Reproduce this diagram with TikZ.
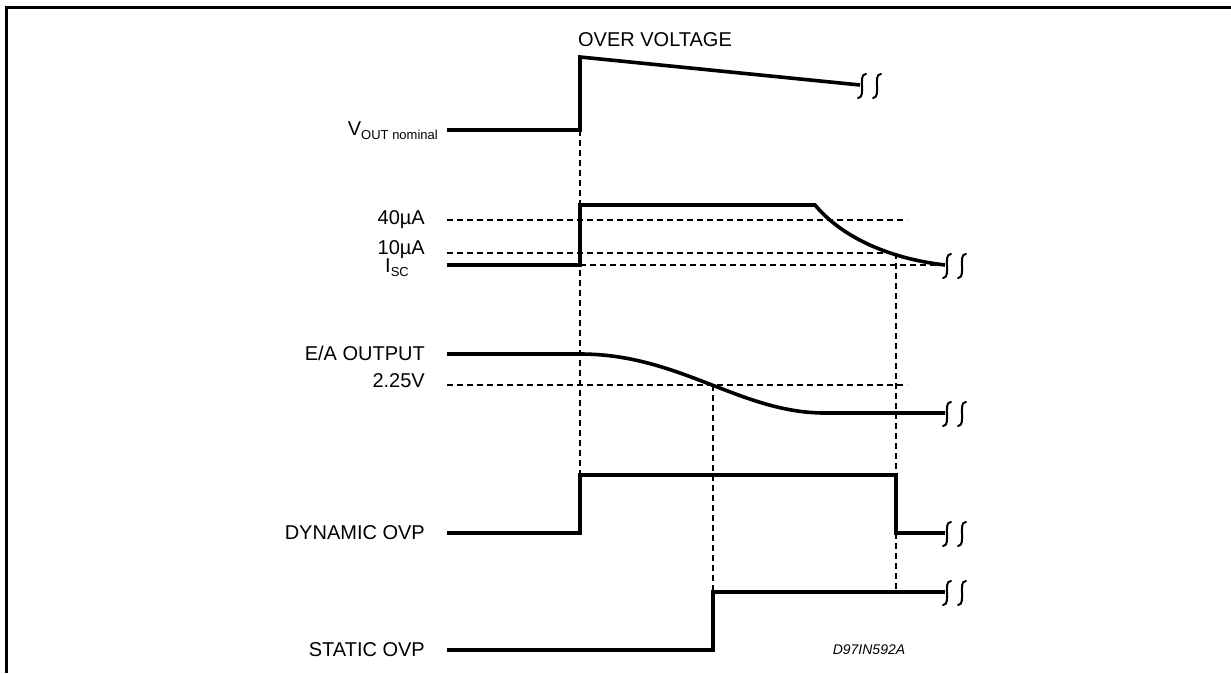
\documentclass[tikz,border=0pt]{standalone}
\usepackage{fontspec}
\setmainfont{Liberation Sans}
\begin{document}
\begin{tikzpicture}[x=1pt,y=-1pt,
  trace/.style={line width=3.6pt,line join=miter},
  guide/.style={line width=1.2pt,dash pattern=on 6pt off 4pt},
  frame/.style={line width=3pt},
  lbl/.style={font=\fontsize{20}{23}\selectfont,inner sep=0pt},
  brk/.style={line width=2pt,line cap=round}]
\useasboundingbox (0,0) rectangle (1231,673);
\tikzset{breakmark/.pic={
  \draw[brk] (-4,12) .. controls (1,12) and (0,4) .. (0,0) .. controls (0,-5) and (-1,-12) .. (4,-12);
  \draw[brk] (11,12) .. controls (16,12) and (15,4) .. (15,0) .. controls (15,-5) and (14,-12) .. (19,-12);
}}
% frame
\draw[frame] (6,673) -- (6,7) -- (1231,7);
% labels
\node[lbl] (ov) at (655,40) {OVER VOLTAGE};
\node[lbl,anchor=east] (vout) at (438,131) {V\raisebox{-0.4ex}{\fontsize{13}{15}\selectfont OUT nominal}};
\node[lbl,anchor=east] (l40) at (425,220) {40\textmu A};
\node[lbl,anchor=east] (l10) at (425,250) {10\textmu A};
\node[lbl,anchor=west] (isc) at (385,268) {I\raisebox{-0.4ex}{\fontsize{13}{15}\selectfont SC}};
\node[lbl,anchor=east] (ea) at (425,353) {E/A OUTPUT};
\node[lbl,anchor=east] (v225) at (425,381) {2.25V};
\node[lbl,anchor=east] (dyn) at (425,533) {DYNAMIC OVP};
\node[lbl,anchor=east] (sta) at (425,650) {STATIC OVP};
\node[lbl,anchor=center,font=\fontsize{14}{16}\selectfont\itshape] (code) at (869,650) {D97IN592A};
% guides
\draw[guide] (447,220) -- (907,220);
\draw[guide] (447,253) -- (897,253);
\draw[guide] (580,265) -- (945,265);
\draw[guide] (447,385) -- (907,385);
\draw[guide] (580,130) -- (580,475);
\draw[guide] (713,385) -- (713,592);
\draw[guide] (896,253) -- (896,592);
% VOUT
\draw[trace] (447,130) -- (580,130) -- (580,57) -- (860,85);
\pic at (862,86) {breakmark};
% ISC
\draw[trace] (447,265) -- (580,265) -- (580,205) -- (815,205) .. controls (840,235) and (885,258) .. (945,265);
\pic at (947,266) {breakmark};
% E/A
\draw[trace] (447,354) -- (580,354) .. controls (680,354) and (740,413) .. (825,413) -- (945,413);
\pic at (947,414) {breakmark};
% Dynamic OVP
\draw[trace] (447,533) -- (580,533) -- (580,475) -- (896,475) -- (896,533) -- (945,533);
\pic at (947,534) {breakmark};
% Static OVP
\draw[trace] (447,650) -- (713,650) -- (713,592) -- (945,592);
\pic at (947,593) {breakmark};
\end{tikzpicture}
\end{document}
